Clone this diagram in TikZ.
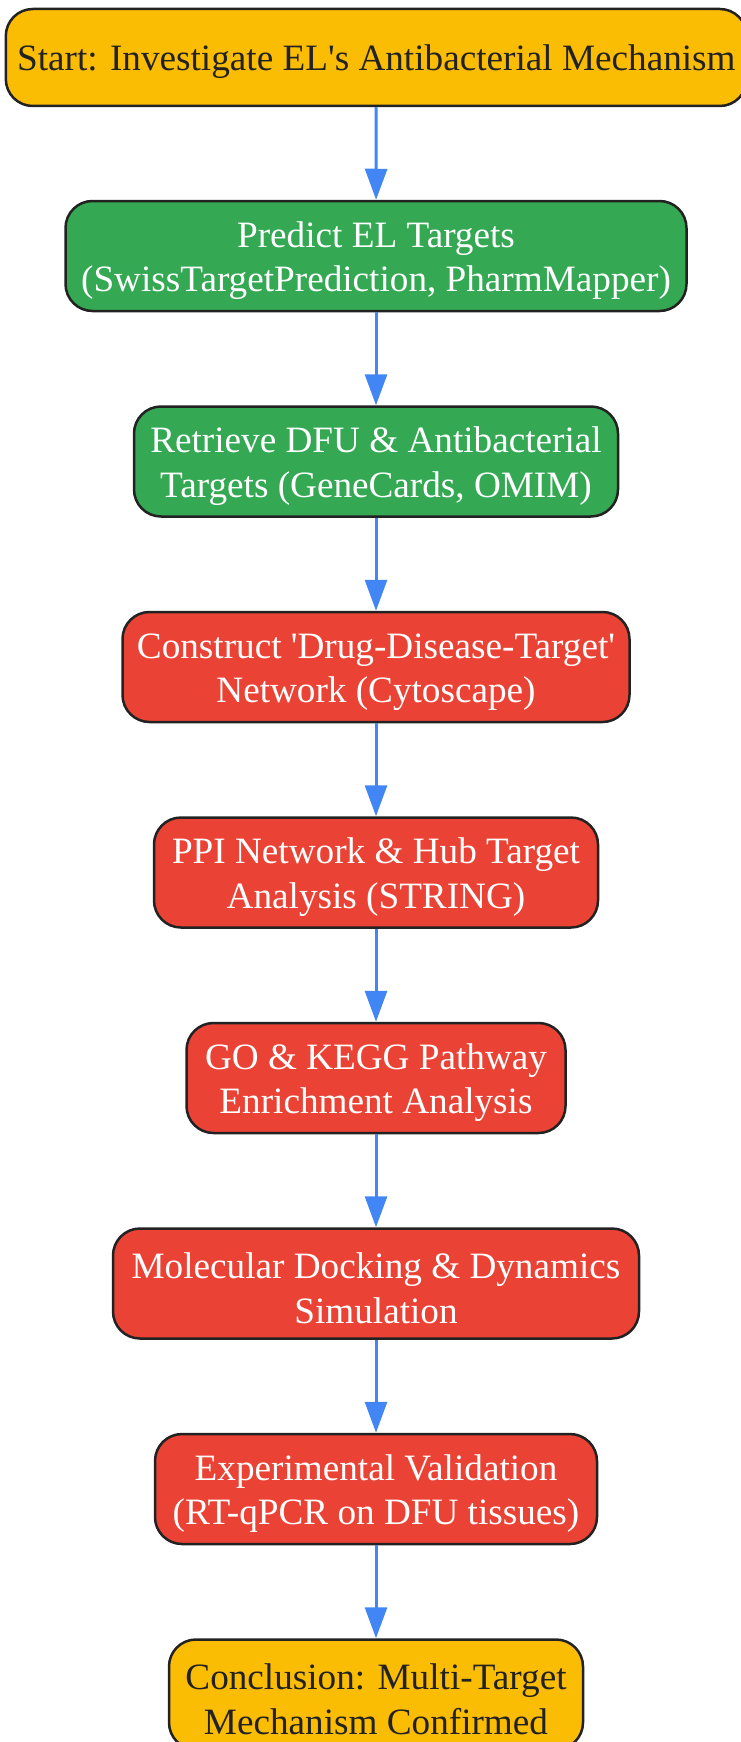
\documentclass[tikz,border=0pt]{standalone}
\usepackage{fontspec}
\setmainfont{Liberation Serif}
\usetikzlibrary{arrows.meta}
\definecolor{gyellow}{HTML}{FBBC04}
\definecolor{ggreen}{HTML}{34A853}
\definecolor{gred}{HTML}{EA4335}
\definecolor{gblue}{HTML}{4285F4}
\definecolor{edgedark}{HTML}{222222}
\newcommand\firstlinestrut{\rule{0pt}{35pt}}
\tikzset{
  box/.style={draw=edgedark, line width=2.5pt, rectangle, rounded corners=27pt,
    inner sep=0pt, align=center, minimum height=110pt,
    font=\fontsize{37.2}{44.6}\selectfont},
  termbox/.style={box, fill=gyellow, text=edgedark},
  greenbox/.style={box, fill=ggreen, text=white},
  redbox/.style={box, fill=gred, text=white},
  flow/.style={draw=gblue, line width=3pt, -{Triangle[length=31pt,width=22pt]}}
}
\begin{document}
\begin{tikzpicture}[x=1pt,y=-1pt]
\useasboundingbox (0,0) rectangle (741,1742);
\clip (0,0) rectangle (741,1742);
\node[termbox, minimum width=741pt, minimum height=97pt] (start) at (376.3,57.5)
  {\firstlinestrut Start: Investigate EL\textquotesingle s Antibacterial Mechanism};
\node[greenbox, minimum width=621pt] (predict) at (376,256)
  {\firstlinestrut Predict EL Targets\\(SwissTargetPrediction, PharmMapper)};
\node[greenbox, minimum width=484pt] (retrieve) at (376,461.5)
  {\firstlinestrut Retrieve DFU \& Antibacterial\\Targets (GeneCards, OMIM)};
\node[redbox, minimum width=507pt] (construct) at (376,667)
  {\firstlinestrut Construct \textquotesingle Drug-Disease-Target\textquotesingle\\Network (Cytoscape)};
\node[redbox, minimum width=444pt] (ppi) at (376,872.5)
  {\firstlinestrut PPI Network \& Hub Target\\Analysis (STRING)};
\node[redbox, minimum width=379pt] (go) at (376,1078)
  {\firstlinestrut GO \& KEGG Pathway\\Enrichment Analysis};
\node[redbox, minimum width=526pt] (md) at (376,1283.5)
  {\firstlinestrut Molecular Docking \& Dynamics\\Simulation};
\node[redbox, minimum width=442pt] (exp) at (376,1489)
  {\firstlinestrut Experimental Validation\\(RT-qPCR on DFU tissues)};
\node[termbox, minimum width=414pt] (concl) at (376,1694.5)
  {\firstlinestrut Conclusion: Multi-Target\\Mechanism Confirmed};
\draw[flow] (start) -- (predict);
\draw[flow] (predict) -- (retrieve);
\draw[flow] (retrieve) -- (construct);
\draw[flow] (construct) -- (ppi);
\draw[flow] (ppi) -- (go);
\draw[flow] (go) -- (md);
\draw[flow] (md) -- (exp);
\draw[flow] (exp) -- (concl);
\end{tikzpicture}
\end{document}
